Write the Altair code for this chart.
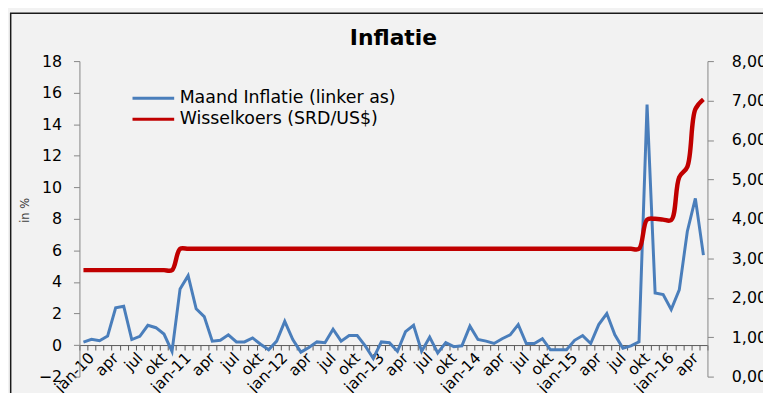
import json
import altair as alt
import pandas as pd

# ---- data -------------------------------------------------------------
tick_labels = ["jan-10", "apr", "jul", "okt", "jan-11", "apr", "jul", "okt",
               "jan-12", "apr", "jul", "okt", "jan-13", "apr", "jul", "okt",
               "jan-14", "apr", "jul", "okt", "jan-15", "apr", "jul", "okt",
               "jan-16", "apr"]

inflation = [
    0.19, 0.36, 0.27, 0.57, 2.36, 2.46, 0.35, 0.55, 1.25, 1.10, 0.70, -0.40,   # 2010
    3.56, 4.40, 2.30, 1.80, 0.25, 0.30, 0.65, 0.20, 0.20, 0.45, 0.05, -0.30,   # 2011
    0.25, 1.50, 0.35, -0.45, -0.15, 0.20, 0.15, 1.00, 0.25, 0.60, 0.60, -0.05, # 2012
    -0.85, 0.20, 0.15, -0.40, 0.85, 1.25, -0.40, 0.50, -0.50, 0.15, -0.10, -0.05,  # 2013
    1.20, 0.35, 0.25, 0.10, 0.40, 0.65, 1.30, 0.10, 0.10, 0.40, -0.30, -0.30,  # 2014
    -0.30, 0.30, 0.60, 0.10, 1.30, 2.00, 0.65, -0.20, -0.05, 0.20, 15.25, 3.30,  # 2015
    3.20, 2.25, 3.50, 7.20, 9.30, 5.70,                                        # 2016
]

exchange = [
    2.70, 2.70, 2.70, 2.70, 2.70, 2.70, 2.70, 2.70, 2.70, 2.70, 2.70, 2.70,  # 2010
    3.24, 3.24, 3.24, 3.24, 3.24, 3.24, 3.24, 3.24, 3.24, 3.24, 3.24, 3.24,  # 2011
    3.24, 3.24, 3.24, 3.24, 3.24, 3.24, 3.24, 3.24, 3.24, 3.24, 3.24, 3.24,  # 2012
    3.24, 3.24, 3.24, 3.24, 3.24, 3.24, 3.24, 3.24, 3.24, 3.24, 3.24, 3.24,  # 2013
    3.24, 3.24, 3.24, 3.24, 3.24, 3.24, 3.24, 3.24, 3.24, 3.24, 3.24, 3.24,  # 2014
    3.24, 3.24, 3.24, 3.24, 3.24, 3.24, 3.24, 3.24, 3.24, 3.24, 3.98, 4.00,  # 2015
    3.98, 3.97, 5.06, 5.32, 6.78, 7.03,                                      # 2016
]

series_names = ["Maand Inflatie (linker as)", "Wisselkoers (SRD/US$)"]
series_colors = ["#4a7ebb", "#c00000"]
left_ticks = [-2, 0, 2, 4, 6, 8, 10, 12, 14, 16, 18]
right_ticks = [0, 1, 2, 3, 4, 5, 6, 7, 8]

# ---- chart ------------------------------------------------------------
n = len(inflation)
df = pd.DataFrame({"m": list(range(n)), "infl": inflation, "rate": exchange})

W, H = 633, 318
FONT = "DejaVu Sans"
AX = "#868686"

lab_arr = json.dumps(tick_labels)
x_label_expr = (f"(datum.value + 0.5) % 3 == 0 ? "
                f"({lab_arr}[round((datum.value + 0.5) / 3)] || '') : ''")

x_axis = alt.Axis(
    values=[k - 0.5 for k in range(n + 1)], labelExpr=x_label_expr,
    offset=-31.8, domainColor="#595959", tickColor="#595959", tickSize=5,
    labelAngle=315, labelAlign="right", labelBaseline="top",
    labelPadding=0, labelOffset=7, labelFont=FONT, labelFontSize=15.5,
    labelColor="#000000", labelOverlap=False, labelFlush=False,
    grid=False, title=None)
X = alt.X("m:Q", scale=alt.Scale(domain=[-0.5, n - 0.5], nice=False, zero=False),
          axis=x_axis)

left_axis = alt.Axis(
    values=left_ticks, tickSize=6, labelPadding=12, domainColor=AX,
    tickColor=AX, labelFont=FONT, labelFontSize=16, labelColor="#000000",
    title="in %", titleFont=FONT, titleFontSize=11.5, titleFontWeight="normal",
    titleColor="#404040", titlePadding=8, titleY=150, grid=False)

right_axis = alt.Axis(
    orient="right", values=right_ticks,
    labelExpr="replace(format(datum.value, '.2f'), '.', ',')",
    tickSize=6, labelPadding=18, domainColor=AX, tickColor=AX,
    labelFont=FONT, labelFontSize=16, labelColor="#000000", title=None,
    grid=False)

# a horizontal line symbol twice as long as the legend row height
legend = alt.Legend(
    orient="none", legendX=62.5, legendY=25.5, title=None,
    symbolType="M-2,0L2,0", symbolSize=441, symbolStrokeWidth=3,
    labelFont=FONT, labelFontSize=17.5, labelColor="#000000",
    labelOffset=14.5, rowPadding=0, padding=0,
    labelLimit=500, direction="vertical")

color_scale = alt.Scale(domain=series_names, range=series_colors)

blue = alt.Chart(df).transform_calculate(
    series=f"'{series_names[0]}'"
).mark_line(strokeWidth=3).encode(
    x=X,
    y=alt.Y("infl:Q", scale=alt.Scale(domain=[-2, 18], nice=False, zero=False),
            axis=left_axis),
    color=alt.Color("series:N", scale=color_scale, legend=legend),
)

red = alt.Chart(df).transform_calculate(
    series=f"'{series_names[1]}'"
).mark_line(strokeWidth=4.5, interpolate="catmull-rom").encode(
    x=X,
    y=alt.Y("rate:Q", scale=alt.Scale(domain=[0, 8], nice=False, zero=False),
            axis=right_axis),
    color=alt.Color("series:N", scale=color_scale, legend=legend),
)

frame_data = alt.Data(values=[{"f": 1}])
left_border = alt.Chart(frame_data).mark_rule(color="#1a1a1a", strokeWidth=1.5).encode(
    x=alt.value(-69.3), y=alt.value(-48.3), y2=alt.value(H + 40))
top_border = alt.Chart(frame_data).mark_rule(color="#1a1a1a", strokeWidth=1.5).encode(
    x=alt.value(-70), x2=alt.value(W + 80), y=alt.value(-48.3))

chart = alt.layer(left_border, top_border, blue, red).resolve_scale(
    y="independent"
).properties(
    width=W, height=H,
    autosize=alt.AutoSizeParams(type="none"),
    padding={"left": 72, "top": 52, "right": 56, "bottom": 15},
    background="#f2f2f2",
    title=alt.TitleParams("Inflatie", font=FONT, fontSize=22, fontWeight="bold",
                          color="#000000", anchor="middle", frame="group",
                          baseline="alphabetic", offset=0, dy=55),
).configure_view(strokeWidth=0)

chart.save("out.html", embed_options={"renderer": "svg", "actions": False})
